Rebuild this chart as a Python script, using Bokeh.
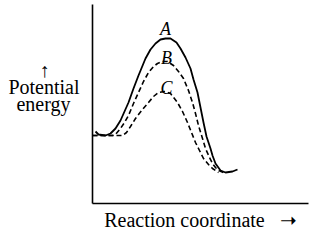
from bokeh.plotting import figure
from bokeh.models import Label, Range1d, FixedTicker
from bokeh.embed import file_html
from bokeh.resources import INLINE

# Curve A (solid, highest barrier)
a_x = [3, 6, 13, 18, 23, 28, 36, 41, 46, 53, 58, 63, 68, 73, 78, 84, 88, 93, 98, 101, 105, 108, 111, 114, 118, 120, 123, 128, 133, 140, 145]
a_y = [72, 69, 68, 70, 75, 83, 101, 115, 128, 145, 154, 160, 164, 165, 165, 161, 155, 146, 135, 124, 111, 96, 81, 67, 55, 48, 40, 33, 31, 32, 34]
# Curve B (dashed)
b_x = [0, 20, 23, 28, 32, 36, 41, 46, 51, 56, 61, 65, 70, 75, 81, 86, 91, 96, 100, 103, 106, 110, 113, 117, 120, 123, 126, 131]
b_y = [68, 68, 69, 75, 81, 88, 100, 111, 122, 131, 137, 140, 142, 142, 138, 132, 125, 113, 101, 90, 78, 65, 55, 46, 40, 36, 33, 31]
# Curve C (dashed, lowest barrier)
c_x = [0, 30, 34, 38, 43, 50, 56, 61, 66, 72, 78, 85, 90, 95, 99, 103, 107, 111, 116, 120, 126]
c_y = [68, 68, 71, 77, 85, 94, 101, 107, 111, 112, 110, 101, 92, 81, 71, 61, 53, 45, 39, 35, 31]

curve_labels = ["A", "B", "C"]
label_x = [73, 74, 74]
label_y = [175, 146, 116]

x_title = "Reaction coordinate\u2002 \u279d"
y_title = "\u2191\u2003\u2002\nPotential\nenergy\u2005\u2009\n\u00a0\n\u00a0"

serif = "Liberation Serif"

p = figure(width=330, height=241, frame_width=216, frame_height=199,
           min_border_left=92, min_border_right=22, min_border_top=4, min_border_bottom=38,
           x_range=Range1d(0, 216), y_range=Range1d(0, 199),
           output_backend="svg", toolbar_location=None)
p.outline_line_color = None
p.grid.visible = False
p.background_fill_color = "white"
p.border_fill_color = "white"
for ax in (p.xaxis[0], p.yaxis[0]):
    ax.ticker = FixedTicker(ticks=[])
    ax.major_tick_line_color = None
    ax.minor_tick_line_color = None
    ax.major_label_standoff = 0
    ax.axis_line_color = "black"
    ax.axis_line_width = 1.6
    ax.axis_label_text_font = serif
    ax.axis_label_text_font_size = "20px"
    ax.axis_label_text_font_style = "normal"
    ax.axis_label_text_color = "black"

p.line(a_x, a_y, line_color="black", line_width=1.8)
p.line(b_x, b_y, line_color="black", line_width=1.6, line_dash="5 3")
p.line(c_x, c_y, line_color="black", line_width=1.6, line_dash="5 3")

for t, x, y in zip(curve_labels, label_x, label_y):
    p.add_layout(Label(x=x, y=y, text=t, text_font=serif, text_font_style="italic",
                       text_font_size="18px", text_align="center", text_baseline="alphabetic",
                       text_color="black"))

p.xaxis.axis_label = x_title
p.xaxis.axis_label_standoff = 5

p.yaxis.axis_label = y_title
p.yaxis.axis_label_orientation = "horizontal"
p.yaxis.axis_label_text_line_height = 0.78
p.yaxis.axis_label_standoff = 13

open("out.html", "w").write(file_html(p, INLINE))
